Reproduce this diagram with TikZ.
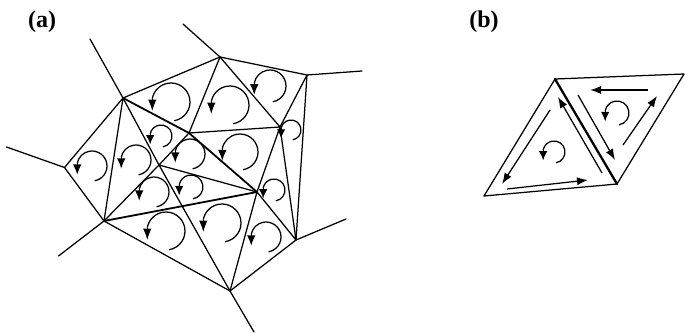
\documentclass[tikz,border=0pt]{standalone}
\usepackage{fontspec}
\setmainfont{Liberation Serif}
\usetikzlibrary{arrows.meta}
\newcommand\spinarc[3]{%
  \pgfmathsetmacro\spinlen{6.5+0.25*#3}%
  \pgfmathsetmacro\spinrun{\spinlen+1}%
  \draw[spinline] (#1,-#2) ++(-80:#3pt) arc[start angle=-80, end angle=170, radius=#3pt] coordinate (spintip);
  \draw[spinline, -{Latex[length=\spinlen pt,width=8.5pt]}] (spintip) -- ++(0,-\spinrun pt);}
\begin{document}
\begin{tikzpicture}[x=1pt,y=1pt,
  mesh/.style={line width=1.25pt, line join=round, line cap=round},
  heavy/.style={line width=1.8pt, line join=round, line cap=round},
  shared/.style={line width=2.3pt, line cap=round},
  spinline/.style={line width=1.25pt},
  vec/.style={line width=1.25pt, -{Latex[length=11pt,width=8pt]}},
  lab/.style={font=\bfseries\fontsize{24}{24}\selectfont, inner sep=0pt}]
\useasboundingbox (0,0) rectangle (685,-332);
% labels
\node[lab] (la) at (42,-22) {(a)};
\node[lab] (lb) at (484,-22) {(b)};
% (a) vertices
\coordinate (A) at (123,-98);
\coordinate (B) at (220,-57);
\coordinate (C) at (307,-75);
\coordinate (D) at (64.5,-167.5);
\coordinate (E) at (104,-221);
\coordinate (F) at (230,-291);
\coordinate (G) at (296,-240);
\coordinate (H) at (280,-127);
\coordinate (I) at (189,-133);
\coordinate (J) at (159,-165);
\coordinate (K) at (257,-192);
% spoke ends
\coordinate (Ao) at (90,-39);
\coordinate (Bo) at (183,-24);
\coordinate (Co) at (362,-71);
\coordinate (Do) at (6.5,-147);
\coordinate (Eo) at (58.5,-256);
\coordinate (Fo) at (254,-332);
\coordinate (Go) at (346,-219);
% outline
\draw[mesh] (A)--(B)--(C)--(G)--(F)--(E)--(D)--cycle;
% spokes
\draw[mesh] (A)--(Ao) (B)--(Bo) (C)--(Co) (D)--(Do) (E)--(Eo) (F)--(Fo) (G)--(Go);
% inner edges
\draw[mesh] (A)--(E) (A)--(J)--(F) (B)--(I) (B)--(H) (C)--(H) (H)--(I)
  (H)--(K) (H)--(G) (I)--(J)--(E) (J)--(K) (K)--(F) (K)--(G);
\draw[heavy] (A)--(I)--(K) (E)--(K);
% rotation arrows
\spinarc{171}{102}{19}
\spinarc{230}{105}{19}
\spinarc{270}{86}{16}
\spinarc{291}{130}{10}
\spinarc{161}{136}{11}
\spinarc{240}{152}{18}
\spinarc{190}{154}{15}
\spinarc{92}{166}{15}
\spinarc{136}{160}{15}
\spinarc{191}{187}{12}
\spinarc{154}{192}{15}
\spinarc{274}{190}{11}
\spinarc{166}{231}{19}
\spinarc{222}{223}{19}
\spinarc{266}{237}{15}
% (b)
\coordinate (P) at (555,-79);
\coordinate (Q) at (484,-196);
\coordinate (R) at (617,-184);
\coordinate (S) at (684,-74);
\draw[mesh] (P)--(Q)--(R) (P)--(S)--(R);
\draw[shared] (P)--(R);
\coordinate (l1s) at (550,-110); \coordinate (l1e) at (502,-184);
\coordinate (l2s) at (507,-189); \coordinate (l2e) at (588,-180);
\coordinate (l3s) at (602,-173); \coordinate (l3e) at (558,-97);
\coordinate (r1s) at (578,-95);  \coordinate (r1e) at (615,-160);
\coordinate (r2s) at (648,-90);  \coordinate (r2e) at (590,-90);
\coordinate (r3s) at (623,-145); \coordinate (r3e) at (657,-96);
\draw[vec] (l1s)--(l1e);
\draw[vec] (l2s)--(l2e);
\draw[vec] (l3s)--(l3e);
\draw[vec] (r1s)--(r1e);
\draw[vec] (r2s)--(r2e);
\draw[vec] (r3s)--(r3e);
\spinarc{554}{152}{11}
\spinarc{617}{113}{12}
\end{tikzpicture}
\end{document}
